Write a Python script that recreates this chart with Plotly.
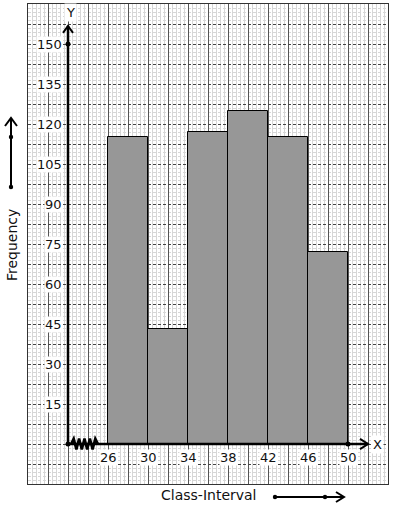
import plotly.graph_objects as go

# ---- data ----
class_lower = [26, 30, 34, 38, 42, 46]
class_upper = [30, 34, 38, 42, 46, 50]
frequency = [115, 43, 117, 125, 115, 72]
x_tick_labels = [26, 30, 34, 38, 42, 46, 50]
y_tick_labels = [15, 30, 45, 60, 75, 90, 105, 120, 135, 150]

mids = [(a + b) / 2 for a, b in zip(class_lower, class_upper)]
widths = [b - a for a, b in zip(class_lower, class_upper)]

# plot area in pixels
L, R, T, B = 28, 388, 4, 484
W, H = R - L, B - T


def px(xp):
    return (xp - L) / W


def py(yp):
    return (B - yp) / H


FONT = "DejaVu Sans"
fig = go.Figure()

fig.add_trace(go.Bar(
    x=mids, y=frequency, width=widths,
    marker=dict(color="#979797", line=dict(color="black", width=1)),
    hoverinfo="skip", showlegend=False,
))

shapes = []
ann = []

# axes lines (data coords)
AX = 22
shapes.append(dict(type="line", xref="x", yref="y", x0=AX, y0=0, x1=AX, y1=156.8,
                   line=dict(color="black", width=2.5), layer="above"))
shapes.append(dict(type="path", xref="x", yref="y",
                   path=f"M {AX-0.5},{156.8-2.6} L {AX},{156.8} L {AX+0.5},{156.8-2.6}",
                   line=dict(color="black", width=2), layer="above"))
shapes.append(dict(type="line", xref="x", yref="y", x0=AX, y0=0, x1=52, y1=0,
                   line=dict(color="black", width=2.5), layer="above"))
shapes.append(dict(type="path", xref="x", yref="y",
                   path="M 51.2,1.9 L 52,0 L 51.2,-1.9",
                   line=dict(color="black", width=2), layer="above"))
# zigzag break
zz = "M 22.3,0"
n = 10
for i in range(1, n + 1):
    xx = 22.3 + i * (25.0 - 22.3) / n
    yy = 2.0 if i % 2 else -2.0
    if i == n:
        yy = 0
    zz += f" L {xx:.3f},{yy}"
shapes.append(dict(type="path", xref="x", yref="y", path=zz,
                   line=dict(color="black", width=2.6), layer="above"))

# dots on axes
dots = [(AX, 0), (AX, 150), (50, 0)]
fig.add_trace(go.Scatter(x=[d[0] for d in dots], y=[d[1] for d in dots], mode="markers",
                         marker=dict(color="black", size=5), hoverinfo="skip",
                         showlegend=False, cliponaxis=False))

# axis letters
ann.append(dict(x=AX + 0.2, y=162, xref="x", yref="y", text="Y", showarrow=False,
                font=dict(family=FONT, size=13, color="#111"), bgcolor="white"))
ann.append(dict(x=52.9, y=0, xref="x", yref="y", text="X", showarrow=False,
                font=dict(family=FONT, size=13, color="#111"), bgcolor="white"))

# tick labels
for v in y_tick_labels:
    ann.append(dict(x=AX, y=v, xref="x", yref="y", text=str(v), showarrow=False,
                    xanchor="right", xshift=-5, bgcolor="white", borderpad=0,
                    font=dict(family=FONT, size=13, color="#111")))
for v in x_tick_labels:
    ann.append(dict(x=v, y=0, xref="x", yref="y", text=str(v), showarrow=False,
                    yanchor="top", yshift=-5, bgcolor="white", borderpad=0,
                    font=dict(family=FONT, size=13, color="#111")))

# axis titles with arrows (outside plot, paper coords)
ann.append(dict(x=px(12), y=py(245), xref="paper", yref="paper", text="Frequency",
                textangle=-90, showarrow=False, xshift=-10,
                font=dict(family=FONT, size=14, color="#111")))
ann.append(dict(x=px(208.5), y=py(496), xref="paper", yref="paper", text="Class-Interval",
                showarrow=False, yshift=-9, font=dict(family=FONT, size=14, color="#111")))

shapes.append(dict(type="line", xref="paper", yref="paper", x0=px(11), y0=py(187),
                   x1=px(11), y1=py(119), line=dict(color="black", width=2)))
shapes.append(dict(type="path", xref="paper", yref="paper",
                   path=f"M {px(5)},{py(126)} L {px(11)},{py(118)} L {px(17)},{py(126)}",
                   line=dict(color="black", width=2)))
shapes.append(dict(type="line", xref="paper", yref="paper", x0=px(275), y0=py(497),
                   x1=px(343), y1=py(497), line=dict(color="black", width=2)))
shapes.append(dict(type="path", xref="paper", yref="paper",
                   path=f"M {px(336)},{py(492)} L {px(344)},{py(497)} L {px(336)},{py(502)}",
                   line=dict(color="black", width=2)))
for (cx, cy) in [(11, 187), (11, 137), (275, 497), (325, 497)]:
    shapes.append(dict(type="circle", xref="paper", yref="paper",
                       x0=px(cx - 2.2), x1=px(cx + 2.2), y0=py(cy + 2.2), y1=py(cy - 2.2),
                       fillcolor="black", line=dict(color="black", width=0)))

fig.update_layout(
    width=393, height=510,
    margin=dict(l=L, r=393 - R, t=T, b=510 - B),
    paper_bgcolor="white", plot_bgcolor="white",
    shapes=shapes, annotations=ann, bargap=0,
    xaxis=dict(range=[18, 54], tick0=18, dtick=2, showticklabels=False, ticks="",
               showgrid=True, gridcolor="#555", gridwidth=1, zeroline=False,
               showline=True, mirror=True, linecolor="#333", linewidth=1,
               minor=dict(dtick=0.4, tick0=18, showgrid=True, gridcolor="#d6d6d6", gridwidth=1),
               fixedrange=True),
    yaxis=dict(range=[-15, 165], tick0=-15, dtick=7.5, showticklabels=False, ticks="",
               showgrid=True, gridcolor="#444", gridwidth=1, griddash="3px,2px", zeroline=False,
               showline=True, mirror=True, linecolor="#333", linewidth=1,
               minor=dict(dtick=1.5, tick0=-15, showgrid=True, gridcolor="#d6d6d6", gridwidth=1),
               fixedrange=True),
)

fig.write_html("out.html", config={"displayModeBar": False},
               post_script="document.body.style.margin='0';document.body.style.overflow='hidden';")
